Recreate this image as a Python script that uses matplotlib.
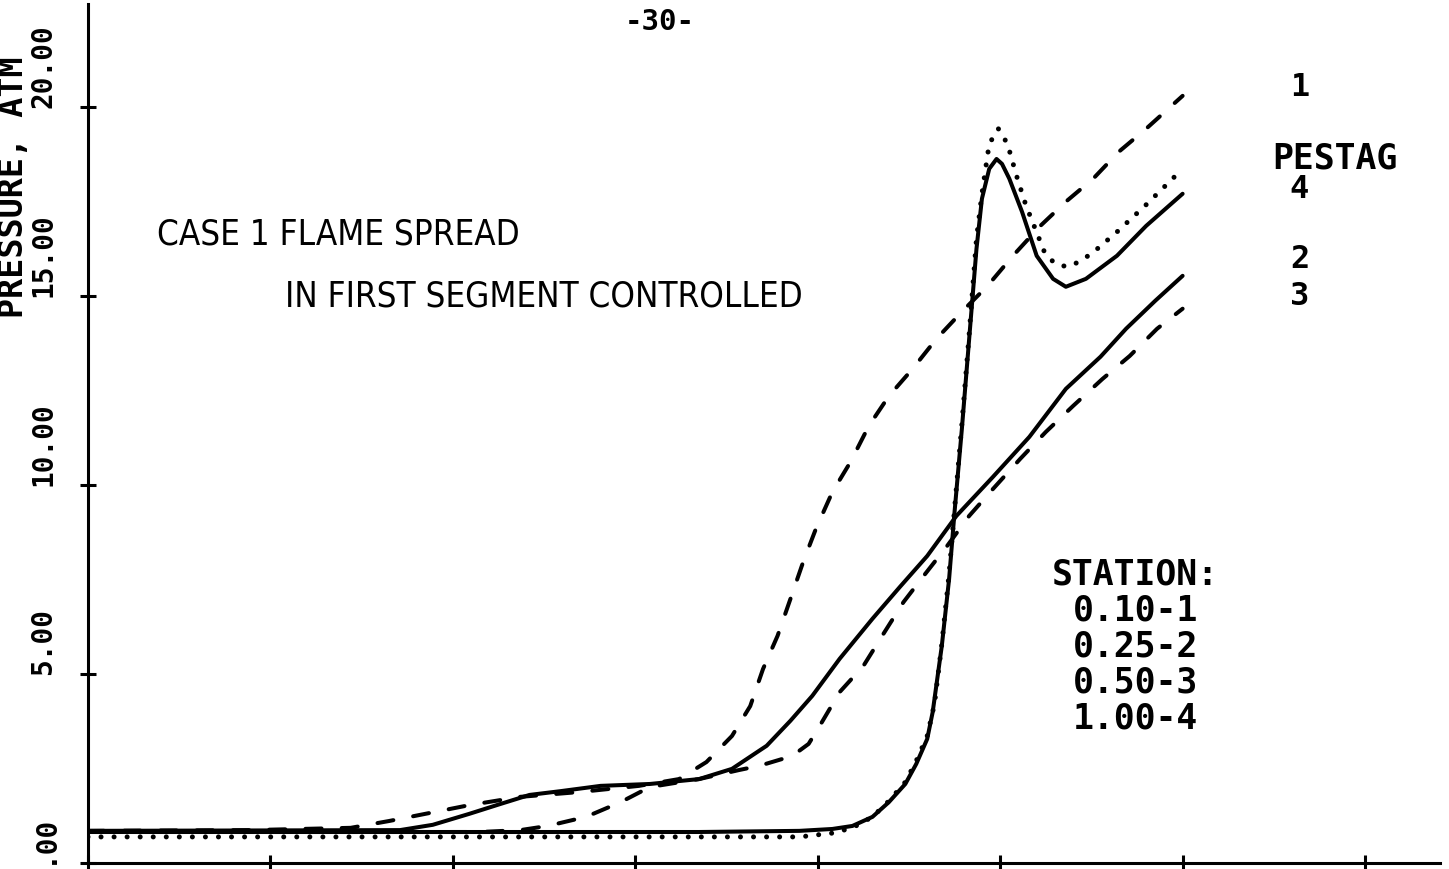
import numpy as np
import matplotlib.pyplot as plt

#---------------------Data (pressure, atm vs time)---------------------
# station 0.10 (1)
x_st1 = [0.00, 0.89, 1.44, 1.65, 1.87, 2.09, 2.37, 2.70, 3.02, 3.24, 3.39, 3.53, 3.63, 3.70,
         3.78, 3.85, 3.92, 3.99, 4.08, 4.18, 4.28, 4.39, 4.52, 4.65, 4.79, 4.93, 5.07,
         5.22, 5.36, 5.51, 5.65, 5.80, 6.00]
p_st1 = [0.85, 0.87, 0.93, 1.11, 1.32, 1.53, 1.75, 1.88, 2.04, 2.22, 2.67, 3.36, 4.15, 5.13,
         6.01, 6.98, 7.96, 8.84, 9.81, 10.61, 11.56, 12.35, 13.07, 13.86, 14.58, 15.26, 16.06,
         16.85, 17.49, 18.10, 18.81, 19.42, 20.29]
# station 0.25 (2)
x_st2 = [0.00, 1.71, 1.89, 2.09, 2.26, 2.42, 2.59, 2.81, 3.08, 3.35, 3.53, 3.67, 3.72, 3.85,
         3.97, 4.12, 4.30, 4.45, 4.60, 4.76, 4.96, 5.16, 5.36, 5.55, 5.69, 5.85, 6.00]
p_st2 = [0.85, 0.87, 1.01, 1.30, 1.56, 1.80, 1.90, 2.04, 2.09, 2.22, 2.49, 2.94, 3.10, 3.76,
         4.42, 5.40, 6.46, 7.30, 8.12, 9.18, 10.21, 11.27, 12.54, 13.39, 14.13, 14.87, 15.53]
# station 0.50 (3)
x_st3 = [0.00, 2.15, 2.37, 2.52, 2.73, 2.92, 3.08, 3.35, 3.57, 3.68, 3.86, 3.95, 4.01, 4.12,
         4.25, 4.36, 4.47, 4.58, 4.71, 4.83, 4.96, 5.11, 5.25, 5.40, 5.56, 5.71, 5.86, 6.00]
p_st3 = [0.82, 0.82, 0.87, 0.98, 1.22, 1.61, 2.01, 2.22, 2.46, 2.57, 2.83, 3.15, 3.62, 4.52,
         5.21, 6.06, 6.90, 7.59, 8.39, 9.18, 9.89, 10.69, 11.40, 12.09, 12.80, 13.41, 14.13, 14.66]
# station 1.00 (4)
x_st4 = [0.00, 3.35, 3.90, 4.08, 4.19, 4.30, 4.39, 4.48, 4.54, 4.60, 4.63, 4.68, 4.72, 4.75,
         4.79, 4.83, 4.87, 4.90, 4.94, 4.98, 5.01, 5.05, 5.12, 5.20, 5.29, 5.36, 5.47, 5.64,
         5.80, 6.00]
p_st4 = [0.82, 0.82, 0.85, 0.90, 0.98, 1.22, 1.61, 2.09, 2.62, 3.28, 3.99, 5.74, 7.51, 9.29,
         11.48, 13.86, 16.24, 17.57, 18.36, 18.62, 18.49, 18.10, 17.22, 16.06, 15.45, 15.24,
         15.45, 16.06, 16.85, 17.70]
# stagnation pressure at station 1.00
x_pestag = [0.00, 3.90, 4.08, 4.19, 4.30, 4.39, 4.48, 4.54, 4.60, 4.64, 4.68, 4.72, 4.75, 4.79,
            4.83, 4.87, 4.90, 4.94, 4.99, 5.04, 5.09, 5.14, 5.24, 5.29, 5.34, 5.39, 5.50, 5.64,
            5.80, 6.00]
p_pestag = [0.69, 0.69, 0.79, 0.93, 1.22, 1.64, 2.14, 2.70, 3.36, 4.21, 5.79, 7.65, 9.37, 11.61,
            13.99, 16.51, 17.70, 19.02, 19.42, 19.02, 18.17, 17.41, 16.19, 15.90, 15.79, 15.79,
            16.11, 16.69, 17.41, 18.36]

y_ticks = [0, 5, 10, 15, 20]
y_tick_labels = ['.00', '5.00', '10.00', '15.00', '20.00']
x_ticks = [0, 1, 2, 3, 4, 5, 6, 7]

station_lines = ['STATION:', '0.10-1', '0.25-2', '0.50-3', '1.00-4']
end_labels = ['1', '4', '2', '3']
end_label_y = [20.53, 17.85, 15.98, 15.0]

#---------------------Plot---------------------
mono = 'DejaVu Sans Mono'
fig = plt.figure(figsize=(14.49, 8.7), dpi=100)
ax = fig.add_axes([0.0607, 0.0069, 0.933, 0.9874])

dash = (0, (4, 5))
ax.plot(x_st1, p_st1, color='k', lw=2.9, linestyle=dash, dash_capstyle='round')
ax.plot(x_st2, p_st2, color='k', lw=2.9, solid_capstyle='round')
ax.plot(x_st3, p_st3, color='k', lw=2.9, linestyle=dash, dash_capstyle='round')
ax.plot(x_st4, p_st4, color='k', lw=2.9, solid_capstyle='round')
ax.plot(x_pestag, p_pestag, color='k', lw=3.6, linestyle=(0, (0.01, 2.6)),
        dash_capstyle='round')

ax.set_xlim(0, 7.41)
ax.set_ylim(0, 22.72)
for s in ['top', 'right']:
    ax.spines[s].set_visible(False)
for s in ['left', 'bottom']:
    ax.spines[s].set_linewidth(2.2)

ax.set_xticks(x_ticks)
ax.set_xticklabels([])
ax.set_yticks(y_ticks)
ax.set_yticklabels(y_tick_labels, rotation=90, va='bottom', ha='right',
                   family=mono, fontweight='bold', fontsize=20)
ax.tick_params(direction='inout', length=12, width=2.2, pad=16)

fig.text(0.0090, 0.6345, 'PRESSURE, ATM', rotation=90, ha='center', va='bottom',
         family=mono, fontweight='bold', fontsize=24)

fig.text(0.455, 0.975, '-30-', ha='center', va='center', family=mono,
         fontweight='bold', fontsize=21)

ax.text(0.378, 16.64, 'CASE 1 FLAME SPREAD', ha='left', va='center', family='DejaVu Sans',
        fontstretch='condensed', fontsize=25)
ax.text(1.08, 15.0, 'IN FIRST SEGMENT CONTROLLED', ha='left', va='center',
        family='DejaVu Sans', fontstretch='condensed', fontsize=25)

st_y = 7.65
for line in station_lines:
    ax.text(5.74, st_y, line, ha='center', va='center', family=mono,
            fontweight='bold', fontsize=25)
    st_y -= 0.95

for lab, yv in zip(end_labels, end_label_y):
    ax.text(6.64, yv, lab, ha='center', va='center', family=mono,
            fontweight='bold', fontsize=23)
ax.text(6.49, 18.65, 'PESTAG', ha='left', va='center', family=mono,
        fontweight='bold', fontsize=25)

plt.savefig('out.png', dpi=100)
